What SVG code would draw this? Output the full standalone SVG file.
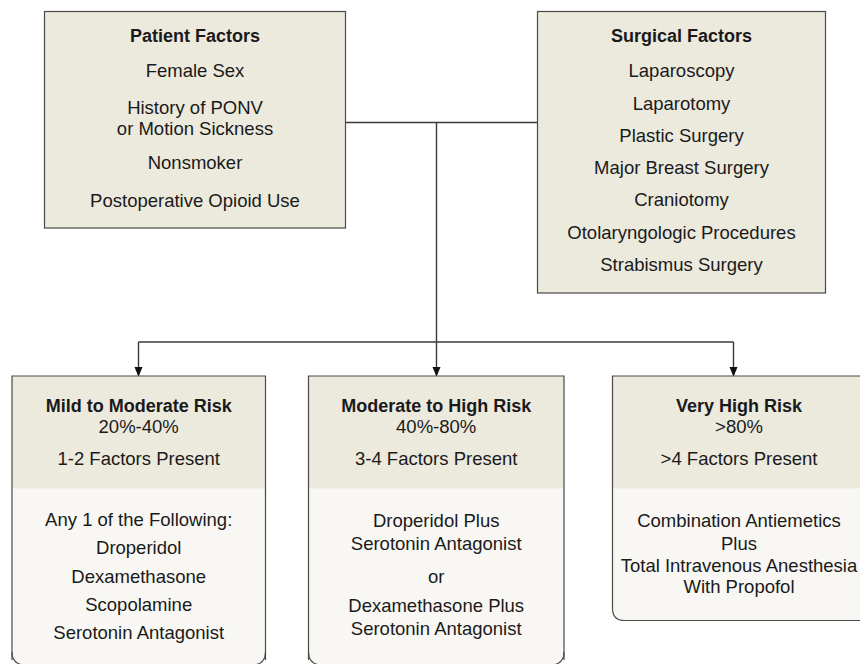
<svg xmlns="http://www.w3.org/2000/svg" width="860" height="664" viewBox="0 0 860 664">
<style>
text{font-family:"Liberation Sans",Arial,Helvetica,sans-serif;font-size:18.5px;fill:#1a1a1a;text-anchor:middle}
.b{font-weight:bold;font-size:18px}
.box{fill:#ece9dd;stroke:#4a4a4a;stroke-width:1.2}
.head{fill:#ece9dd}
.body{fill:#f8f7f3}
.out{fill:none;stroke:#4a4a4a;stroke-width:1.2}
.conn{fill:none;stroke:#3a3a3a;stroke-width:1.4}
</style>
<defs>
<marker id="ah" markerWidth="10" markerHeight="12" refX="5" refY="11" orient="auto" markerUnits="userSpaceOnUse" viewBox="0 0 10 12">
<path d="M0,0 L10,0 L5,12 Z" fill="#111" transform="rotate(-90 5 6)"/>
</marker>
<marker id="arr" markerWidth="10" markerHeight="12" refX="10" refY="5" orient="auto" markerUnits="userSpaceOnUse" viewBox="0 0 12 10">
<path d="M0,0 L12,5 L0,10 Z" fill="#111"/>
</marker>
</defs>
<g id="connectors">
<path class="conn" d="M346,122.5 H537"/>
<path class="conn" d="M436.5,122.5 V375" marker-end="url(#arr)"/>
<path class="conn" d="M138.5,342 H733.5"/>
<path class="conn" d="M138.5,342 V375" marker-end="url(#arr)"/>
<path class="conn" d="M733.5,342 V375" marker-end="url(#arr)"/>
</g>
<g id="patient">
<rect class="box" x="44.5" y="11.5" width="301" height="216.5"/>
<text class="b" x="195" y="42">Patient Factors</text>
<text x="195" y="77">Female Sex</text>
<text x="195" y="113.5">History of PONV</text>
<text x="195" y="134.5">or Motion Sickness</text>
<text x="195" y="168.5">Nonsmoker</text>
<text x="195" y="207">Postoperative Opioid Use</text>
</g>
<g id="surgical">
<rect class="box" x="537.5" y="11.5" width="288" height="281.5"/>
<text class="b" x="681.5" y="42">Surgical Factors</text>
<text x="681.5" y="77">Laparoscopy</text>
<text x="681.5" y="110">Laparotomy</text>
<text x="681.5" y="142">Plastic Surgery</text>
<text x="681.5" y="174">Major Breast Surgery</text>
<text x="681.5" y="206">Craniotomy</text>
<text x="681.5" y="238.5">Otolaryngologic Procedures</text>
<text x="681.5" y="270.5">Strabismus Surgery</text>
</g>
<g id="mild">
<path class="body" d="M12,376 H265.5 V652 Q265.5,664 253.5,664 H24 Q12,664 12,652 Z"/>
<rect class="head" x="12" y="376" width="253.5" height="112.5"/>
<path class="out" d="M12,660 V376 H265.5 V660"/>
<path class="out" d="M12,652 Q12,664 24,665"/>
<path class="out" d="M265.5,652 Q265.5,664 253.5,665"/>
<text class="b" x="138.7" y="411.7">Mild to Moderate Risk</text>
<text x="138.7" y="433.3">20%-40%</text>
<text x="138.7" y="465">1-2 Factors Present</text>
<text x="138.7" y="525.7">Any 1 of the Following:</text>
<text x="138.7" y="554.3">Droperidol</text>
<text x="138.7" y="582.7">Dexamethasone</text>
<text x="138.7" y="611">Scopolamine</text>
<text x="138.7" y="639.3">Serotonin Antagonist</text>
</g>
<g id="moderate">
<path class="body" d="M308.5,376 H564 V652 Q564,664 552,664 H320.5 Q308.5,664 308.5,652 Z"/>
<rect class="head" x="308.5" y="376" width="255.5" height="112.5"/>
<path class="out" d="M308.5,660 V376 H564 V660"/>
<path class="out" d="M308.5,652 Q308.5,664 320.5,665"/>
<path class="out" d="M564,652 Q564,664 552,665"/>
<text class="b" x="436.2" y="411.7">Moderate to High Risk</text>
<text x="436.2" y="433.3">40%-80%</text>
<text x="436.2" y="465">3-4 Factors Present</text>
<text x="436.2" y="526.7">Droperidol Plus</text>
<text x="436.2" y="550">Serotonin Antagonist</text>
<text x="436.2" y="582.7">or</text>
<text x="436.2" y="611.7">Dexamethasone Plus</text>
<text x="436.2" y="635">Serotonin Antagonist</text>
</g>
<g id="veryhigh">
<path class="body" d="M612.5,376 H866 V620.5 H624.5 Q612.5,620.5 612.5,608.5 Z"/>
<rect class="head" x="612.5" y="376" width="253.5" height="112.5"/>
<path class="out" d="M866,376 H612.5 V608.5 Q612.5,620.5 624.5,620.5 H866"/>
<text class="b" x="739" y="411.7">Very High Risk</text>
<text x="739" y="433.3">&gt;80%</text>
<text x="739" y="465">&gt;4 Factors Present</text>
<text x="739" y="526.7">Combination Antiemetics</text>
<text x="739" y="550">Plus</text>
<text x="739" y="571.7">Total Intravenous Anesthesia</text>
<text x="739" y="593.3">With Propofol</text>
</g>
</svg>
